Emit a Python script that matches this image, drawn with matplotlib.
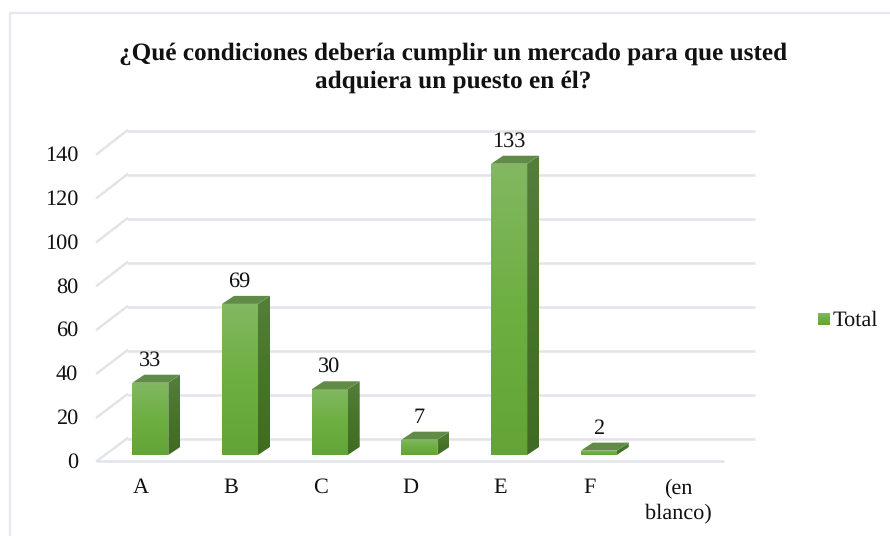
#!/usr/bin/env python3
"""Fake-3D column chart: condiciones del mercado."""

import numpy as np
import matplotlib
matplotlib.use("Agg")
import matplotlib.pyplot as plt
from matplotlib.colors import LinearSegmentedColormap
from matplotlib.patches import Polygon

categories = ["A", "B", "C", "D", "E", "F", "(en\nblanco)"]
values = [33, 69, 30, 7, 133, 2, None]
y_ticks = [0, 20, 40, 60, 80, 100, 120, 140]

W, H = 890, 536
GRID = "#E3E4EA"
FRAME = "#E3E8F0"
TEXT = "#111111"
FS = 16

# pixel layout of the plot, everything below is mapped through the axes scale
PX_PER_CAT = 89.7
PX_PER_UNIT = 2.19
X0_PX = 150.3  # centre of first category
Y0_PX = 455.0  # foot of the bars
BAR_W = 36 / PX_PER_CAT
DX = 12 / PX_PER_CAT
DY = 8 / PX_PER_UNIT

plt.rcParams["font.family"] = ["Liberation Serif", "DejaVu Serif"]
plt.rcParams["text.hinting"] = "none"
plt.rcParams["text.hinting_factor"] = 8

fig = plt.figure(figsize=(W / 100, H / 100), dpi=100)
ax = fig.add_axes([0, 0, 1, 1])
ax.axis("off")

front = LinearSegmentedColormap.from_list("front", ["#64A437", "#6DAF41", "#82B862"])
side = LinearSegmentedColormap.from_list("side", ["#3F6B22", "#47752A", "#557E3B"])
grad = np.linspace(0, 1, 128).reshape(-1, 1)


def px_x(p):
    return (p - X0_PX) / PX_PER_CAT


def px_y(p):
    return (Y0_PX - p) / PX_PER_UNIT


# frame around the chart (open on the right and at the bottom)
ax.plot([px_x(10), px_x(10), px_x(890)], [px_y(536), px_y(12.5), px_y(12.5)], color=FRAME, lw=1.6,
        solid_joinstyle="miter")

# floor and back wall gridlines
FRONT_L, FRONT_R = px_x(97), px_x(724)
BACK_L, BACK_R = px_x(127), px_x(755)
FRONT_0 = px_y(461)
BACK_0 = px_y(438.5)
STEP = 44.0 / PX_PER_UNIT
for i, tick in enumerate(y_ticks):
    yb = BACK_0 + i * STEP
    yf = FRONT_0 + i * (307 / 7) / PX_PER_UNIT
    ax.plot([BACK_L, BACK_R], [yb, yb], color=GRID, lw=1.8, zorder=1, solid_capstyle="butt")
    ax.plot([FRONT_L, BACK_L], [yf, yb], color=GRID, lw=1.8, zorder=1)
    ax.text(px_x(78), yf - 1.5 / PX_PER_UNIT, str(tick), ha="right", va="center", fontsize=FS, color=TEXT)
ax.plot([FRONT_L, FRONT_R], [FRONT_0, FRONT_0], color=GRID, lw=1.8, zorder=1, solid_capstyle="butt")

# bars
for i, v in enumerate(values):
    if v is None:
        continue
    x0, x1 = i - BAR_W / 2, i + BAR_W / 2
    bar = ax.bar(i, v, width=BAR_W, color="none", zorder=3)[0]
    im = ax.imshow(grad, extent=(x0, x1, 0, v), origin="lower", cmap=front, aspect="auto", zorder=3)
    im.set_clip_path(bar)
    sp = Polygon([(x1, 0), (x1 + DX, DY), (x1 + DX, v + DY), (x1, v)], closed=True, fc="none", ec="none", zorder=3)
    ax.add_patch(sp)
    im2 = ax.imshow(grad, extent=(x1, x1 + DX, 0, v + DY), origin="lower", cmap=side, aspect="auto", zorder=3)
    im2.set_clip_path(sp)
    ax.add_patch(Polygon([(x0, v), (x0 + DX, v + DY), (x1 + DX, v + DY), (x1, v)], closed=True,
                         fc="#608C47", ec="none", zorder=4))
    ax.text(i - 0.7 / PX_PER_CAT, v + DY + 2.0, str(v), ha="center", va="bottom", fontsize=FS,
            color=TEXT, zorder=5)

# legend swatch, same gradient as the bars
ax.imshow(grad, extent=(px_x(817.5), px_x(829), px_y(325.5), px_y(314)), origin="lower", cmap=front,
          aspect="auto", zorder=3)

ax.set_xlim(-X0_PX / PX_PER_CAT, (W - X0_PX) / PX_PER_CAT)
ax.set_ylim((Y0_PX - H) / PX_PER_UNIT, Y0_PX / PX_PER_UNIT)

# category labels
for i, c in enumerate(categories):
    off = -9 if i < 6 else -10
    ax.text(i + off / PX_PER_CAT, px_y(478), c, ha="center", va="top",
            fontsize=FS, color=TEXT, linespacing=1.35)

ax.text(px_x(833), px_y(320), "Total", ha="left", va="center", fontsize=FS, color=TEXT)

ax.text(px_x(453.5), px_y(67.5), "¿Qué condiciones debería cumplir un mercado para que usted\nadquiera un puesto en él?",
        ha="center", va="center", fontsize=18.2, fontweight="bold", color=TEXT, linespacing=1.32)

fig.savefig("out.png", dpi=100)
